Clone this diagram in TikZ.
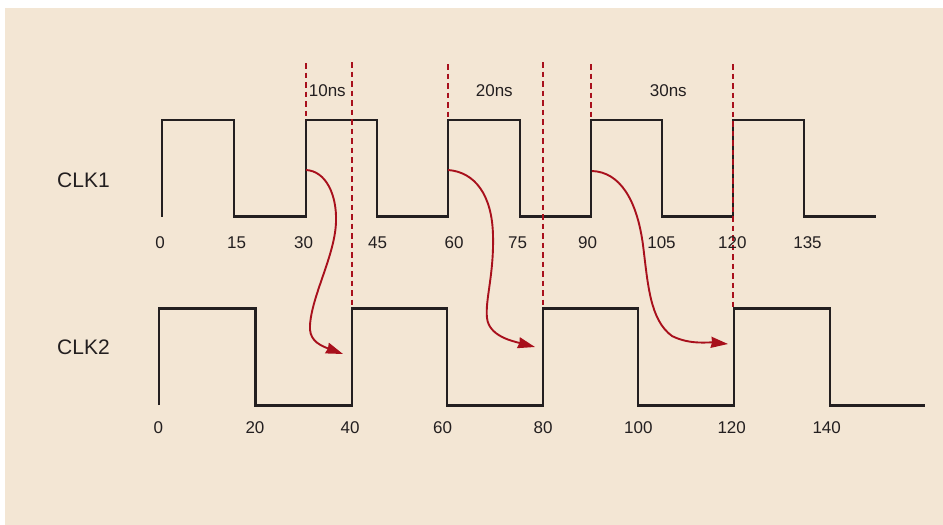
\documentclass[tikz,border=0pt]{standalone}
\usepackage{fontspec}
\setmainfont{Liberation Sans}
\usetikzlibrary{arrows.meta}
\definecolor{bg}{RGB}{243,230,212}
\definecolor{wavecol}{RGB}{35,31,32}
\definecolor{darkred}{RGB}{168,16,28}
\begin{document}
\begin{tikzpicture}[x=1pt,y=-1pt,
  wave/.style={draw=wavecol,line width=2.3pt,line join=miter},
  guide/.style={draw=darkred,line width=2pt,dash pattern=on 5.5pt off 4pt},
  delay/.style={draw=darkred,line width=1.9pt,-{Stealth[length=17pt,width=11pt,inset=1pt]}},
  tick/.style={font=\fontsize{17}{20}\selectfont,text=wavecol,anchor=base,inner sep=0pt},
  sig/.style={font=\fontsize{21}{25}\selectfont,text=wavecol,anchor=base west,inner sep=0pt}]
\useasboundingbox (0,0) rectangle (943,525);
\fill[bg] (5,8) rectangle (943,525);

% CLK1 waveform
\draw[wave] (162,216.5) -- (162,120) -- (234,120) -- (234,216.5) -- (306,216.5) -- (306,120)
  -- (377,120) -- (377,216.5) -- (448,216.5) -- (448,120) -- (520,120) -- (520,216.5)
  -- (591,216.5) -- (591,120) -- (662,120) -- (662,216.5) -- (733,216.5) -- (733,120)
  -- (804,120) -- (804,216.5) -- (876,216.5);

% CLK2 waveform
\draw[wave] (159,405) -- (159,308.5) -- (255.5,308.5) -- (255.5,405.5) -- (352,405.5) -- (352,308.5)
  -- (447,308.5) -- (447,405.5) -- (543,405.5) -- (543,308.5) -- (638,308.5) -- (638,405.5)
  -- (734,405.5) -- (734,308.5) -- (830,308.5) -- (830,405.5) -- (925,405.5);

% dashed guides
\coordinate (g1a) at (306,63);  \coordinate (g1b) at (306,120);
\coordinate (g2a) at (352,62);  \coordinate (g2b) at (352,308.5);
\coordinate (g3a) at (448,64);  \coordinate (g3b) at (448,120);
\coordinate (g4a) at (543,62);  \coordinate (g4b) at (543,308.5);
\coordinate (g5a) at (591,64);  \coordinate (g5b) at (591,120);
\coordinate (g6a) at (733,64);  \coordinate (g6b) at (733,308.5);
\foreach \g in {1,...,6} \draw[guide] (g\g a) -- (g\g b);

% delay arrows
\coordinate (s1) at (306,170);   \coordinate (e1) at (343,354);
\coordinate (s2) at (448,170);   \coordinate (e2) at (535,347);
\coordinate (s3) at (592,171);   \coordinate (e3) at (728,344);
\draw[delay] (s1) .. controls (326,171) and (337,195) .. (336,222)
  .. controls (335,255) and (312,295) .. (310,325)
  .. controls (309,338) and (316,344) .. (e1);
\draw[delay] (s2) .. controls (475,172) and (492,195) .. (493,235)
  .. controls (494,275) and (485,300) .. (487,318)
  .. controls (489,336) and (512,341) .. (e2);
\draw[delay] (s3) .. controls (620,172) and (637,200) .. (643,245)
  .. controls (648,285) and (650,320) .. (672,336)
  .. controls (690,345) and (708,342) .. (e3);

% labels
\node[sig] (clk1) at (57,187) {CLK1};
\node[sig] (clk2) at (57,354) {CLK2};
\foreach \x/\t [count=\i] in {160/0,236.7/15,303.5/30,377.5/45,454/60,517.5/75,587.5/90,661.5/105,732.3/120,807.5/135}
  \node[tick] (a\i) at (\x,248) {\t};
\foreach \x/\t [count=\i] in {158.3/0,255/20,350/40,442.7/60,543/80,638.3/100,731.7/120,826.7/140}
  \node[tick] (b\i) at (\x,433) {\t};
\node[tick] (d1) at (327.3,96) {10ns};
\node[tick] (d2) at (494.3,96) {20ns};
\node[tick] (d3) at (668.3,96) {30ns};
\end{tikzpicture}
\end{document}
